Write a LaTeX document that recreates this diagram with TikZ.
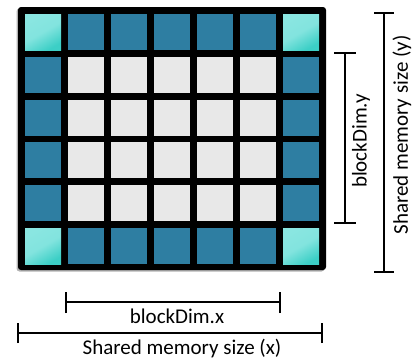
\documentclass[tikz,border=0pt]{standalone}
\usepackage{fontspec}
\setmainfont{Carlito}
\definecolor{cellblue}{HTML}{2E7EA2}
\definecolor{cellgray}{HTML}{E8E8E8}
\definecolor{cyanA}{HTML}{8AE6E1}
\definecolor{cyanB}{HTML}{3CCFC6}
\begin{document}
\begin{tikzpicture}[x=1pt,y=-1pt,
  cellbase/.style={minimum width=36pt,minimum height=36pt,inner sep=0pt,outer sep=0pt,anchor=north west},
  halo/.style={cellbase,fill=cellblue},
  inner/.style={cellbase,fill=cellgray},
  corner/.style={cellbase,top color=cyanA,bottom color=cyanB,middle color=cyanA!90!cyanB,shading angle=30},
  dimline/.style={line width=2.5pt,line cap=butt},
  lbl/.style={font=\fontsize{21}{24}\selectfont,inner sep=0pt}]
\useasboundingbox (0,0) rectangle (415,362);
% shadow and frame
\fill[gray!60,rounded corners=3pt] (16.5,8.5) rectangle (324.5,271.5);
\fill[black,rounded corners=3pt] (18,7) rectangle (326,270);
% cells
\foreach \i in {0,...,6}{
  \foreach \j in {0,...,5}{
    \pgfmathsetmacro{\cx}{25+43*\i}
    \pgfmathsetmacro{\cy}{14+42.8*\j}
    \ifnum\i=0 \def\edge{1}\else\ifnum\i=6 \def\edge{1}\else\def\edge{0}\fi\fi
    \ifnum\j=0 \def\edgey{1}\else\ifnum\j=5 \def\edgey{1}\else\def\edgey{0}\fi\fi
    \pgfmathtruncatemacro{\kind}{\edge+\edgey}
    \ifcase\kind
      \node[inner] (c\i\j) at (\cx,\cy) {};
    \or
      \node[halo] (c\i\j) at (\cx,\cy) {};
    \or
      \node[corner] (c\i\j) at (\cx,\cy) {};
    \fi
  }
}
% blockDim.y
\coordinate (by1) at (345,53);
\coordinate (by2) at (345,223);
\draw[dimline] (by1) -- (by2);
\draw[dimline] ([xshift=-11pt]by1) -- ([xshift=11pt]by1);
\draw[dimline] ([xshift=-11pt]by2) -- ([xshift=11pt]by2);
\node[lbl,rotate=90] (lby) at (361,141) {blockDim.y};
% Shared memory size (y)
\coordinate (sy1) at (384,13);
\coordinate (sy2) at (384,272);
\draw[dimline] (sy1) -- (sy2);
\draw[dimline] ([xshift=-10pt]sy1) -- ([xshift=10pt]sy1);
\draw[dimline] ([xshift=-10pt]sy2) -- ([xshift=10pt]sy2);
\node[lbl,rotate=90] (lsy) at (402,135) {Shared memory size (y)};
% blockDim.x
\coordinate (bx1) at (66,302);
\coordinate (bx2) at (280,302);
\draw[dimline] (bx1) -- (bx2);
\draw[dimline] ([yshift=-11pt]bx1) -- ([yshift=10pt]bx1);
\draw[dimline] ([yshift=-11pt]bx2) -- ([yshift=10pt]bx2);
\node[lbl] (lbx) at (177,316) {blockDim.x};
% Shared memory size (x)
\coordinate (sx1) at (18,333);
\coordinate (sx2) at (322,333);
\draw[dimline] (sx1) -- (sx2);
\draw[dimline] ([yshift=-10pt]sx1) -- ([yshift=10pt]sx1);
\draw[dimline] ([yshift=-10pt]sx2) -- ([yshift=10pt]sx2);
\node[lbl] (lsx) at (182,349) {Shared memory size (x)};
\end{tikzpicture}
\end{document}
